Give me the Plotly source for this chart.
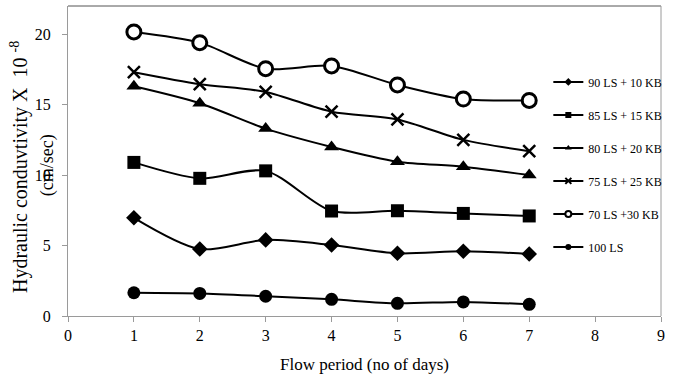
import plotly.graph_objects as go

days = [1, 2, 3, 4, 5, 6, 7]

series_names = [
    "90 LS + 10 KB",
    "85 LS + 15 KB",
    "80 LS + 20 KB",
    "75 LS + 25 KB",
    "70 LS +30 KB",
    "100 LS",
]

ls90_kb10 = [6.97, 4.75, 5.4, 5.04, 4.45, 4.6, 4.4]
ls85_kb15 = [10.9, 9.77, 10.3, 7.45, 7.47, 7.28, 7.1]
ls80_kb20 = [16.3, 15.1, 13.3, 12.0, 10.95, 10.6, 10.0]
ls75_kb25 = [17.3, 16.45, 15.9, 14.5, 13.95, 12.5, 11.7]
ls70_kb30 = [20.16, 19.4, 17.55, 17.75, 16.4, 15.4, 15.3]
ls100 = [1.65, 1.6, 1.4, 1.18, 0.9, 1.0, 0.83]

values = [ls90_kb10, ls85_kb15, ls80_kb20, ls75_kb25, ls70_kb30, ls100]

symbols = ["diamond", "square", "triangle-up", "x-thin-open", "circle", "circle"]
fills = ["black", "black", "black", "black", "white", "black"]
outline = [0, 0, 0, 2.5, 3, 0]
sizes = [12, 13, 13, 12, 14, 13]

x_ticks = [0, 1, 2, 3, 4, 5, 6, 7, 8, 9]
y_ticks = [0, 5, 10, 15, 20]

SERIF = "Liberation Serif, Times New Roman, Tinos, serif"

fig = go.Figure()

for name, ys, sym, fc, ow, sz in zip(series_names, values, symbols, fills, outline, sizes):
    fig.add_trace(go.Scatter(
        x=days, y=ys, mode="lines+markers", name=name, showlegend=False,
        line=dict(color="black", width=2, shape="spline", smoothing=0.8),
        marker=dict(symbol=sym, size=sz, color=fc, line=dict(color="black", width=ow)),
    ))

# small-marker entries for the legend
for i, (name, sym, fc, ow) in enumerate(zip(series_names, symbols, fills, outline)):
    fig.add_trace(go.Scatter(
        x=[None], y=[None], mode="lines+markers", name=name, legendgroup=f"g{i}",
        line=dict(color="black", width=2),
        marker=dict(symbol=sym, size=6, color=fc, line=dict(color="black", width=min(ow, 2))),
    ))

fig.update_layout(
    width=673, height=378,
    margin=dict(l=68, r=12, t=6, b=62),
    paper_bgcolor="white", plot_bgcolor="white",
    font=dict(family=SERIF, color="black"),
    showlegend=True,
    legend=dict(
        x=0.81, y=0.802, xanchor="left", yanchor="top",
        font=dict(family=SERIF, size=12, color="black"),
        bgcolor="rgba(0,0,0,0)", tracegroupgap=14, itemwidth=30,
        traceorder="grouped",
    ),
    xaxis=dict(
        range=[0, 9], tickvals=x_ticks, showgrid=False, zeroline=False,
        showline=True, linecolor="#9a9a9a", linewidth=1,
        ticks="outside", ticklen=5, tickcolor="#9a9a9a",
        tickfont=dict(family=SERIF, size=16, color="black"),
        title=dict(text="Flow period (no of days)", font=dict(family=SERIF, size=17), standoff=14),
    ),
    yaxis=dict(
        range=[0, 22], tickvals=y_ticks, showgrid=False, zeroline=False,
        showline=True, linecolor="#9a9a9a", linewidth=1,
        ticks="outside", ticklen=5, tickcolor="#9a9a9a", ticklabelstandoff=8,
        tickfont=dict(family=SERIF, size=16, color="black"),
    ),
    annotations=[
        dict(text="Hydraulic conduvtivity X  10 <sup>-8</sup>", xref="paper", yref="paper",
             x=-0.083, y=0.48, xanchor="center", yanchor="middle", textangle=-90,
             showarrow=False, font=dict(family=SERIF, size=20, color="black")),
        dict(text="(cm/sec)", xref="paper", yref="paper",
             x=-0.035, y=0.487, xanchor="center", yanchor="middle", textangle=-90,
             showarrow=False, font=dict(family=SERIF, size=18, color="black")),
    ],
    shapes=[
        dict(type="line", xref="paper", yref="paper", x0=0, x1=1, y0=1, y1=1,
             line=dict(color="#555555", width=1)),
        dict(type="line", xref="paper", yref="paper", x0=1, x1=1, y0=0, y1=1,
             line=dict(color="#9a9a9a", width=1)),
    ],
)

fig.write_html("out.html")
